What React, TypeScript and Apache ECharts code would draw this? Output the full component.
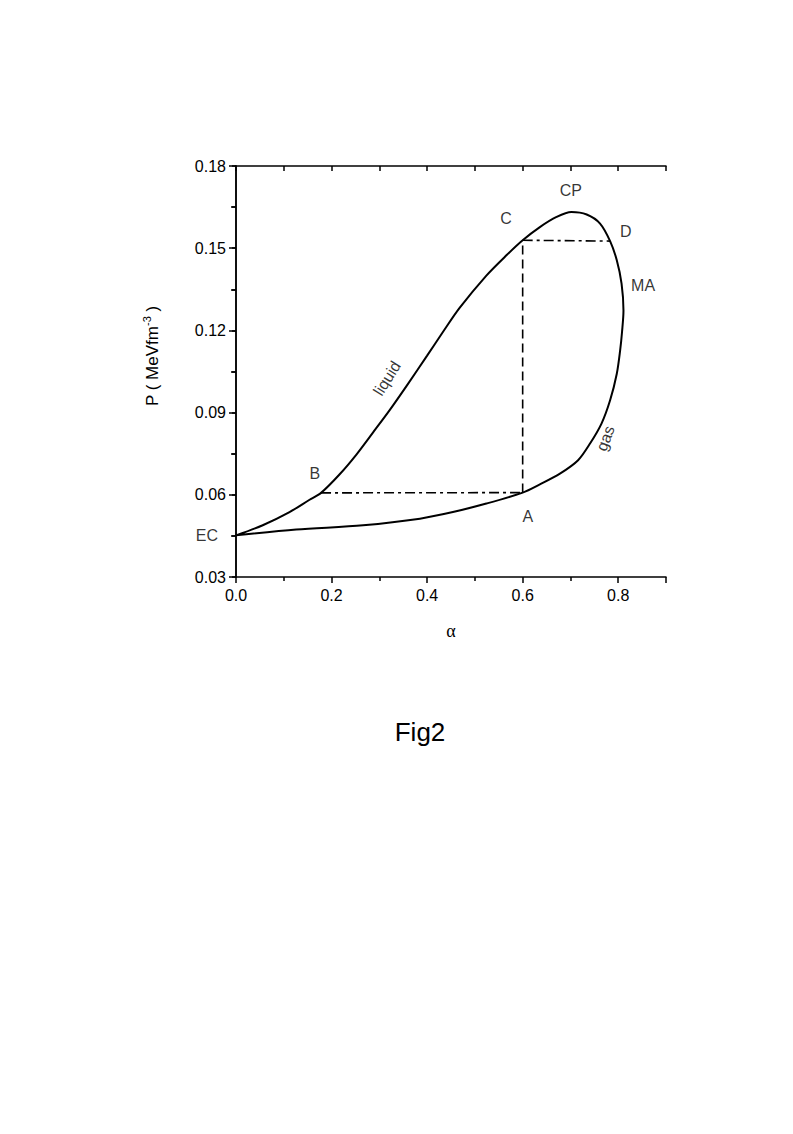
import React, { useEffect, useRef } from "react";
import * as echarts from "echarts";

// Closed coexistence loop: EC -> liquid branch -> C -> CP -> D -> MA -> gas branch -> A -> EC
const loopAlpha = [0, 0.056, 0.112, 0.154, 0.178, 0.217, 0.252, 0.287, 0.322, 0.36, 0.4, 0.4334, 0.468, 0.524, 0.566, 0.6, 0.636, 0.671, 0.702, 0.734, 0.762, 0.783, 0.797, 0.807, 0.811, 0.808, 0.804, 0.797, 0.783, 0.765, 0.741, 0.716, 0.678, 0.636, 0.6, 0.524, 0.454, 0.385, 0.266, 0.126, 0];
const loopP = [0.0452, 0.0489, 0.0537, 0.0582, 0.0607, 0.0675, 0.0747, 0.0828, 0.091, 0.1005, 0.1108, 0.1195, 0.1282, 0.14, 0.1474, 0.1529, 0.1577, 0.1614, 0.1632, 0.1623, 0.159, 0.1526, 0.1456, 0.1371, 0.1273, 0.1195, 0.1127, 0.1042, 0.0945, 0.086, 0.0787, 0.0726, 0.0677, 0.0638, 0.0608, 0.0568, 0.0537, 0.0513, 0.0489, 0.0473, 0.0452];

// Construction lines
const tieBAAlpha = [0.178, 0.6];
const tieBAP = [0.0607, 0.0608];
const verticalAlpha = [0.6, 0.6];
const verticalP = [0.0608, 0.1529];
const tieCDAlpha = [0.6, 0.783];
const tieCDP = [0.1529, 0.1526];

// Annotations
const labelNames = ["CP", "C", "D", "MA", "liquid", "gas", "B", "A"];
const labelAlpha = [0.701, 0.565, 0.816, 0.852, 0.316, 0.773, 0.165, 0.611];
const labelP = [0.1711, 0.161, 0.1562, 0.1365, 0.1025, 0.0806, 0.0676, 0.0522];
const labelRotate = [0, 0, 0, 0, 58, 70, 0, 0];

const xTicks = { min: 0, max: 0.9, interval: 0.2 };
const yTicks = { min: 0.03, max: 0.18, interval: 0.03 };

const zip = (a: number[], b: number[]) => a.map((v, i) => [v, b[i]]);

export default function App() {
  const ref = useRef<HTMLDivElement>(null);
  useEffect(() => {
    if (!ref.current) return;
    const chart = echarts.init(ref.current, undefined, { renderer: "svg" });
    const font = "Liberation Sans, Arial, sans-serif";
    const black = "#000";
    chart.setOption({
      animation: false,
      backgroundColor: "#fff",
      grid: { left: 236, top: 166, width: 430, height: 411, containLabel: false },
      xAxis: [
        {
          type: "value",
          position: "bottom",
          min: xTicks.min,
          max: xTicks.max,
          interval: xTicks.interval,
          name: "α",
          nameLocation: "middle",
          nameGap: 45,
          nameTextStyle: { fontFamily: "Liberation Serif, Times New Roman, serif", fontSize: 18, color: black },
          axisLine: { show: true, lineStyle: { color: black, width: 1.5 } },
          axisTick: { show: true, inside: false, length: 6, lineStyle: { color: black, width: 1.5 } },
          minorTick: { show: true, splitNumber: 2, length: 4, lineStyle: { color: black, width: 1.5 } },
          splitLine: { show: false },
          axisLabel: {
            color: black,
            fontFamily: font,
            fontSize: 16,
            margin: 10,
            showMaxLabel: false,
            formatter: (v: number) => v.toFixed(1),
          },
        },
        {
          type: "value",
          position: "top",
          min: xTicks.min,
          max: xTicks.max,
          interval: 0.1,
          axisLine: { show: true, lineStyle: { color: black, width: 1.5 } },
          axisTick: { show: true, inside: true, length: 5, lineStyle: { color: black, width: 1.5 } },
          splitLine: { show: false },
          axisLabel: { show: false },
        },
      ],
      yAxis: [
        {
          type: "value",
          position: "left",
          min: yTicks.min,
          max: yTicks.max,
          interval: yTicks.interval,
          axisLine: { show: true, lineStyle: { color: black, width: 1.5 } },
          axisTick: { show: true, inside: false, length: 7, lineStyle: { color: black, width: 1.5 } },
          minorTick: { show: true, splitNumber: 2, length: 5, lineStyle: { color: black, width: 1.5 } },
          splitLine: { show: false },
          axisLabel: {
            color: black,
            fontFamily: font,
            fontSize: 16,
            margin: 10,
            formatter: (v: number) => v.toFixed(2),
          },
        },
        {
          type: "value",
          position: "right",
          min: yTicks.min,
          max: yTicks.max,
          interval: 0.015,
          axisLine: { show: true, lineStyle: { color: black, width: 1.5 } },
          axisTick: { show: true, inside: true, length: 4, lineStyle: { color: black, width: 1.5 } },
          splitLine: { show: false },
          axisLabel: { show: false },
        },
      ],
      series: [
        {
          type: "line",
          data: zip(loopAlpha, loopP),
          smooth: 0.3,
          showSymbol: false,
          symbol: "none",
          lineStyle: { color: black, width: 2 },
        },
        {
          type: "line",
          data: zip(tieBAAlpha, tieBAP),
          symbol: "none",
          lineStyle: { color: black, width: 1.6, type: [10, 4, 3, 4] },
        },
        {
          type: "line",
          data: zip(verticalAlpha, verticalP),
          symbol: "none",
          lineStyle: { color: black, width: 1.6, type: [9, 5] },
        },
        {
          type: "line",
          data: zip(tieCDAlpha, tieCDP),
          symbol: "none",
          lineStyle: { color: black, width: 1.6, type: [10, 4, 3, 4] },
        },
        {
          type: "scatter",
          symbolSize: 0,
          silent: true,
          data: labelNames.map((n, i) => ({
            value: [labelAlpha[i], labelP[i]],
            label: {
              show: true,
              formatter: n,
              position: "inside",
              rotate: labelRotate[i],
              color: black,
              fontFamily: font,
              fontSize: 16,
            },
          })),
        },
        {
          type: "scatter",
          symbolSize: 0,
          silent: true,
          clip: false,
          data: [
            {
              value: [0, 0.045],
              label: {
                show: true,
                formatter: "EC",
                position: "left",
                distance: 18,
                color: black,
                fontFamily: font,
                fontSize: 16,
              },
            },
          ],
        },
      ],
      graphic: [
        {
          type: "text",
          x: 152,
          y: 356,
          rotation: Math.PI / 2,
          style: {
            text: "{a|P ( MeVfm}{s|-3}{a| )}",
            align: "center",
            verticalAlign: "middle",
            fill: black,
            rich: {
              a: { fontFamily: font, fontSize: 17, fill: black },
              s: { fontFamily: font, fontSize: 11, fill: black, padding: [0, 0, 10, 0] },
            },
          },
        },
        {
          type: "text",
          x: 420,
          y: 732,
          style: {
            text: "Fig2",
            align: "center",
            verticalAlign: "middle",
            fontFamily: font,
            fontSize: 26,
            fill: black,
          },
        },
      ],
    });
    return () => chart.dispose();
  }, []);
  return (
    <div
      ref={ref}
      style={{ position: "fixed", left: 0, top: 0, width: 793, height: 1134, background: "#fff" }}
    />
  );
}
